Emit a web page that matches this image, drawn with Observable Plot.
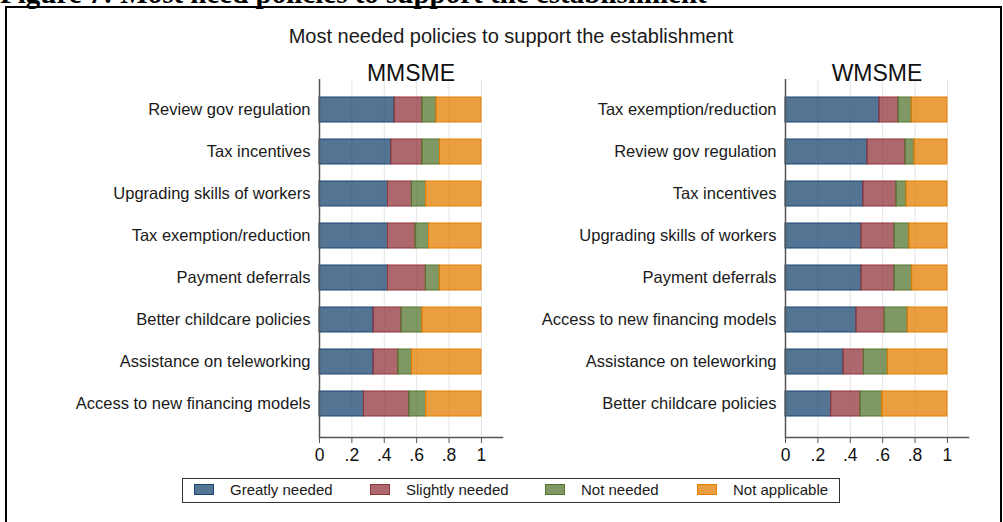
<!DOCTYPE html>
<html><head><meta charset="utf-8">
<script src="https://cdn.jsdelivr.net/npm/d3@7"></script>
<script src="https://cdn.jsdelivr.net/npm/@observablehq/plot@0.6"></script>
<style>
body{margin:0;background:#fff;}
#wrap{position:relative;width:1003px;height:522px;overflow:hidden;background:#fff;font-family:"Liberation Sans",Arial,sans-serif;color:#1a1a1a;}
#fig{position:absolute;left:0;top:-21px;font-family:"Liberation Serif","Times New Roman",serif;font-weight:bold;font-size:29px;line-height:29px;white-space:nowrap;color:#000;}
#box{position:absolute;left:5px;top:6px;width:993px;height:530px;border-top:2px solid #000;border-left:2px solid #000;border-right:2px solid #000;}
#title{position:absolute;top:26px;left:0;width:1022px;text-align:center;font-size:20px;line-height:20px;}
#left{position:absolute;left:0;top:0;}
#right{position:absolute;left:520px;top:0;}
#legend{position:absolute;left:182px;top:478px;width:656px;height:23px;border:1.5px solid #333;}
.sw{position:absolute;top:5px;width:20px;height:11px;border:1px solid;box-sizing:border-box;}
.lt{position:absolute;top:3px;font-size:15px;line-height:16px;white-space:nowrap;}
</style></head>
<body>
<div id="wrap">
  <div id="fig">Figure 7: Most need policies to support the establishment</div>
  <div id="box"></div>
  <div id="title">Most needed policies to support the establishment</div>
  <div id="left"></div>
  <div id="right"></div>
  <div id="legend"></div>
</div>
<script>
const categories = ["Greatly needed", "Slightly needed", "Not needed", "Not applicable"];
const colors = ["#1a476f", "#90353b", "#55752f", "#e37e00"];
const xTicks = [0, 0.2, 0.4, 0.6, 0.8, 1];

// MMSME
const mmsmePolicies = ["Review gov regulation", "Tax incentives", "Upgrading skills of workers", "Tax exemption/reduction", "Payment deferrals", "Better childcare policies", "Assistance on teleworking", "Access to new financing models"];
const mmsmeGreatly  = [0.464, 0.443, 0.423, 0.423, 0.423, 0.334, 0.334, 0.274];
const mmsmeSlightly = [0.171, 0.192, 0.148, 0.171, 0.234, 0.173, 0.153, 0.281];
const mmsmeNot      = [0.087, 0.109, 0.087, 0.082, 0.086, 0.128, 0.084, 0.103];
const mmsmeNA       = [0.278, 0.256, 0.342, 0.324, 0.257, 0.365, 0.429, 0.342];

// WMSME
const wmsmePolicies = ["Tax exemption/reduction", "Review gov regulation", "Tax incentives", "Upgrading skills of workers", "Payment deferrals", "Access to new financing models", "Assistance on teleworking", "Better childcare policies"];
const wmsmeGreatly  = [0.580, 0.506, 0.481, 0.469, 0.469, 0.438, 0.358, 0.282];
const wmsmeSlightly = [0.118, 0.235, 0.204, 0.204, 0.204, 0.175, 0.126, 0.181];
const wmsmeNot      = [0.082, 0.055, 0.062, 0.092, 0.109, 0.142, 0.148, 0.134];
const wmsmeNA       = [0.220, 0.204, 0.253, 0.235, 0.218, 0.245, 0.368, 0.403];

const fmt = d => d === 0 ? "0" : d === 1 ? "1" : String(d).replace(/^0/, "");

function panel(title, policies, series, width, ml, mr) {
  const rows = [];
  policies.forEach((p, i) => series.forEach((arr, k) => rows.push({policy: p, category: categories[k], value: arr[i]})));
  return Plot.plot({
    width, height: 470,
    marginLeft: ml, marginRight: mr, marginTop: 79, marginBottom: 33,
    x: {domain: [0, 1.13], label: null},
    y: {domain: policies, padding: 0.407, insetBottom: 4, label: null},
    color: {domain: categories, range: colors},
    style: {fontFamily: "'Liberation Sans', Arial, sans-serif", fontSize: "16px", color: "#1a1a1a", background: "transparent"},
    marks: [
      Plot.gridX(xTicks.slice(1), {stroke: "#e4e4e4", strokeOpacity: 1, strokeWidth: 1}),
      Plot.barX(rows, Plot.stackX({x: "value", y: "policy", fill: "category", stroke: "category", fillOpacity: 0.75, strokeWidth: 1, order: categories})),
      Plot.ruleX([0], {stroke: "#555", strokeWidth: 1.5}),
      Plot.frame({anchor: "bottom", stroke: "#555", strokeWidth: 1.5}),
      Plot.axisX({ticks: xTicks, tickFormat: fmt, tickSize: 6, tickPadding: 5, fontSize: 17.5, stroke: "#555", color: "#111", label: null}),
      Plot.axisY({tickSize: 0, tickPadding: 9, fontSize: 16.5, label: null}),
      Plot.text([title], {text: d => d, frameAnchor: "top", dy: -15, fontSize: 23, fill: "#111"})
    ]
  });
}

document.getElementById("left").appendChild(panel("MMSME", mmsmePolicies, [mmsmeGreatly, mmsmeSlightly, mmsmeNot, mmsmeNA], 520, 319, 18));
document.getElementById("right").appendChild(panel("WMSME", wmsmePolicies, [wmsmeGreatly, wmsmeSlightly, wmsmeNot, wmsmeNA], 483, 265, 35));

const legend = document.getElementById("legend");
const swX = [11, 187, 362, 514];
const txX = [47, 223, 398, 550];
categories.forEach((c, i) => {
  const col = d3.color(colors[i]);
  const sw = document.createElement("div");
  sw.className = "sw";
  sw.style.left = swX[i] + "px";
  sw.style.borderColor = colors[i];
  col.opacity = 0.75;
  sw.style.background = col.formatRgb();
  legend.appendChild(sw);
  const t = document.createElement("div");
  t.className = "lt";
  t.style.left = txX[i] + "px";
  t.textContent = c;
  legend.appendChild(t);
});
</script>
</body></html>
